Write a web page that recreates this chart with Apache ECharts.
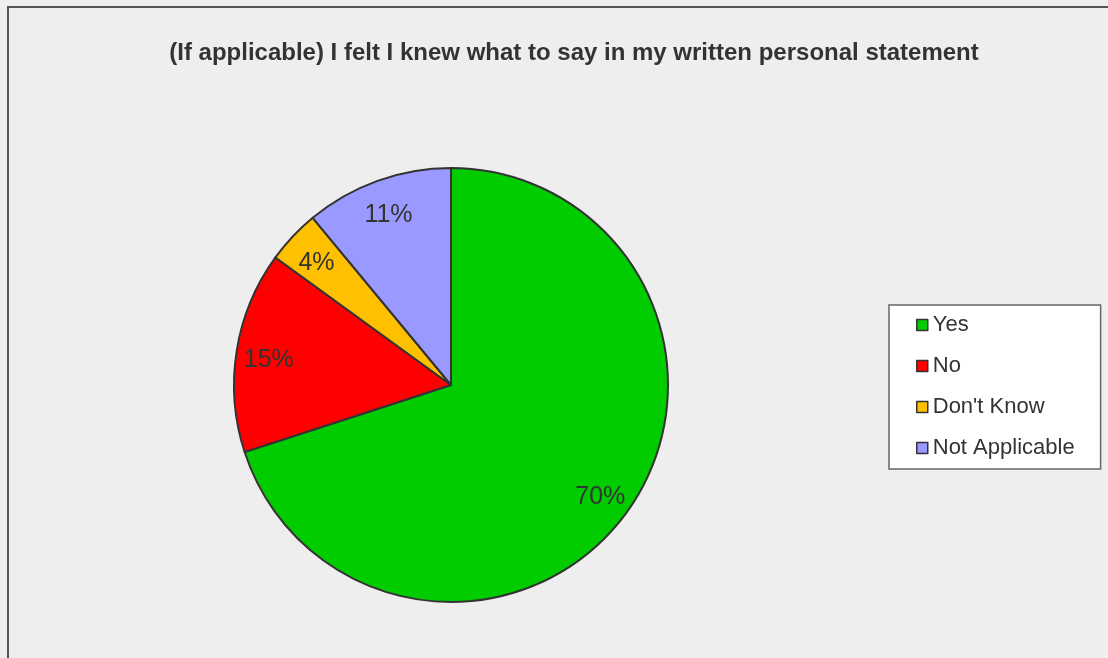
<!DOCTYPE html>
<html>
<head>
<meta charset="utf-8">
<title>Personal statement survey</title>
<script src="https://cdn.jsdelivr.net/npm/echarts@6/dist/echarts.min.js"></script>
<style>
  html, body { margin: 0; padding: 0; background: #eeeeee; }
  #frame {
    position: absolute; left: 7px; top: 6px; right: 0; bottom: 0;
    border-left: 2px solid #555; border-top: 2px solid #555;
  }
  #chart { position: absolute; left: 0; top: 0; width: 1108px; height: 658px; }
</style>
</head>
<body>
<div id="frame"></div>
<div id="chart"></div>
<script>
const titleText = '(If applicable) I felt I knew what to say in my written personal statement';
const categories = ['Yes', 'No', "Don't Know", 'Not Applicable'];
const percentages = [70, 15, 4, 11];
const sliceColors = ['#00cc00', '#ff0000', '#ffc000', '#9999ff'];

const pieData = categories.map((name, i) => ({
  name: name,
  value: percentages[i],
  itemStyle: { color: sliceColors[i] }
}));

const chart = echarts.init(document.getElementById('chart'), null, { renderer: 'canvas' });

chart.setOption({
  backgroundColor: 'transparent',
  animation: false,
  title: {
    text: titleText,
    left: 569,
    top: 36,
    textAlign: 'center',
    textStyle: {
      fontFamily: 'Liberation Sans',
      fontWeight: 'bold',
      fontSize: 24,
      color: '#333333'
    }
  },
  legend: {
    data: categories,
    orient: 'vertical',
    left: 889,
    top: 305,
    padding: [9, 26, 10, 27],
    itemGap: 19,
    itemWidth: 11,
    itemHeight: 11,
    icon: 'rect',
    backgroundColor: '#ffffff',
    borderColor: '#666666',
    borderWidth: 1.5,
    borderRadius: 0,
    itemStyle: { borderColor: '#333333', borderWidth: 1.5 },
    textStyle: {
      fontFamily: 'Liberation Sans',
      fontSize: 22,
      lineHeight: 22,
      color: '#333333'
    }
  },
  series: [
    {
      name: 'Responses',
      type: 'pie',
      center: [451, 385],
      radius: [0, 217],
      startAngle: 90,
      clockwise: true,
      silent: true,
      label: { show: false },
      labelLine: { show: false },
      itemStyle: { borderColor: '#333333', borderWidth: 2 },
      data: pieData
    },
    {
      // transparent ring that places the percentage labels toward the rim
      name: 'Labels',
      type: 'pie',
      center: [451, 389],
      radius: [146, 217],
      startAngle: 90,
      clockwise: true,
      silent: true,
      legendHoverLink: false,
      itemStyle: { color: 'rgba(0,0,0,0)', borderWidth: 0 },
      label: {
        show: true,
        position: 'inside',
        formatter: '{c}%',
        fontFamily: 'Liberation Sans',
        fontSize: 25,
        color: '#333333'
      },
      labelLine: { show: false },
      data: categories.map((name, i) => ({ name: name, value: percentages[i] }))
    }
  ]
});
</script>
</body>
</html>
